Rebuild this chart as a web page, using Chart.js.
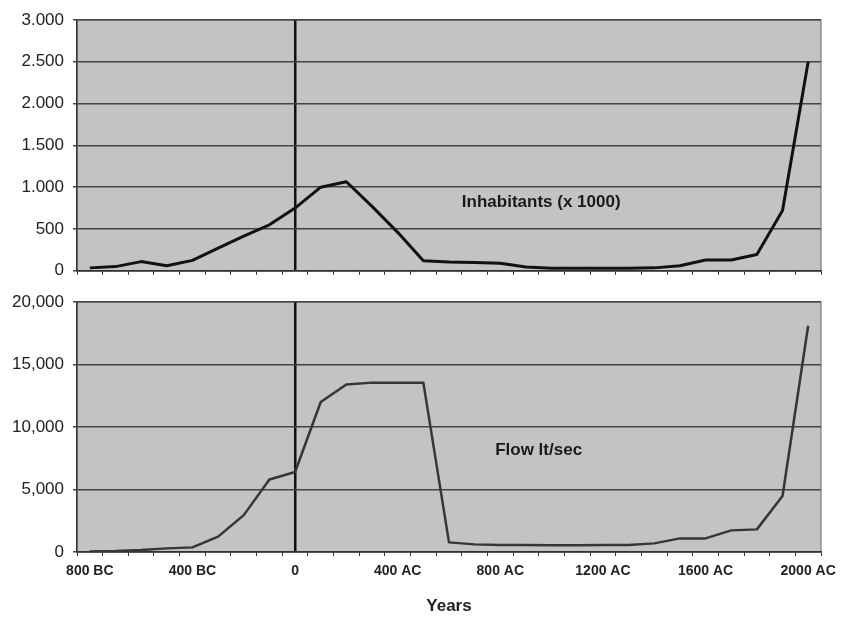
<!DOCTYPE html>
<html>
<head>
<meta charset="utf-8">
<script src="https://cdn.jsdelivr.net/npm/chart.js@4/dist/chart.umd.min.js"></script>
<style>
  body { margin: 0; background: #fff; }
  #wrap { position: relative; width: 849px; height: 617px; }
  canvas { position: absolute; left: 0; }
  #top { top: 0; z-index: 1; }
  #bottom { top: 280px; }
</style>
</head>
<body>
<div id="wrap">
  <canvas id="top" width="849" height="290"></canvas>
  <canvas id="bottom" width="849" height="337"></canvas>
</div>
<script>
// years, one point per century
const years = [-800, -700, -600, -500, -400, -300, -200, -100, 0, 100, 200, 300, 400, 500,
  600, 700, 800, 900, 1000, 1100, 1200, 1300, 1400, 1500, 1600, 1700, 1800, 1900, 2000];

// inhabitants (x 1000)
const inhabitants = [35, 50, 110, 60, 125, 270, 415, 550, 750, 1000, 1065, 770, 460, 120,
  105, 100, 90, 45, 30, 30, 30, 30, 35, 60, 130, 130, 195, 720, 2500];

// flow lt/sec
const flow = [50, 80, 160, 290, 370, 1230, 2950, 5800, 6400, 12000, 13400, 13550, 13550, 13550,
  770, 610, 560, 560, 550, 550, 560, 560, 690, 1090, 1090, 1730, 1810, 4480, 18100];

const xLabelYears = [-800, -400, 0, 400, 800, 1200, 1600, 2000];
const topTicks = [0, 500, 1000, 1500, 2000, 2500, 3000];
const bottomTicks = [0, 5000, 10000, 15000, 20000];

Chart.defaults.font.family = "'Liberation Sans', Arial, sans-serif";
Chart.defaults.color = "#222";

function yearLabel(v) {
  if (!xLabelYears.includes(v)) return "";
  if (v < 0) return (-v) + " BC";
  if (v === 0) return "0";
  return v + " AC";
}

// gray plot background and frame
const panelBg = {
  id: "panelBg",
  beforeDraw(chart) {
    const { ctx, chartArea: a } = chart;
    ctx.save();
    ctx.fillStyle = "#c3c3c3";
    ctx.fillRect(a.left, a.top, a.right - a.left, a.bottom - a.top);
    ctx.strokeStyle = "#6a6a6a";
    ctx.lineWidth = 1;
    ctx.strokeRect(a.left, a.top, a.right - a.left, a.bottom - a.top);
    ctx.restore();
  },
};

// text label inside the panel, placed in data units
const panelText = {
  id: "panelText",
  afterDraw(chart, args, opts) {
    const { ctx, scales } = chart;
    ctx.save();
    ctx.font = "bold 17px 'Liberation Sans', Arial, sans-serif";
    ctx.fillStyle = "#1a1a1a";
    ctx.textAlign = "left";
    ctx.textBaseline = "middle";
    ctx.fillText(opts.text, scales.x.getPixelForValue(opts.x), scales.y.getPixelForValue(opts.y));
    ctx.restore();
  },
};

function xScale(showLabels, height) {
  return {
    type: "linear",
    min: -850,
    max: 2050,
    afterBuildTicks(scale) {
      const t = [];
      for (let v = -850; v <= 2050; v += 50) t.push({ value: v });
      scale.ticks = t;
    },
    afterFit(scale) { scale.height = height; },
    border: { color: "#333", width: 1.5 },
    grid: {
      drawOnChartArea: true,
      color: (c) => (c.tick && c.tick.value === 0 ? "#111" : "rgba(0,0,0,0)"),
      lineWidth: (c) => (c.tick && c.tick.value === 0 ? 2.5 : 1),
      tickColor: (c) => (c.tick && Math.abs(c.tick.value % 100) === 50 ? "#333" : "rgba(0,0,0,0)"),
      tickLength: 4,
    },
    ticks: {
      display: showLabels,
      autoSkip: false,
      maxRotation: 0,
      padding: 7,
      font: { size: 14, weight: "bold" },
      callback: (v) => yearLabel(v),
    },
    title: showLabels
      ? { display: true, text: "Years", font: { size: 17, weight: "bold" }, padding: { top: 0, bottom: 0 } }
      : { display: false },
  };
}

function yScale(max, step, sep) {
  return {
    min: 0,
    max: max,
    afterFit(scale) { scale.width = 77; },
    border: { color: "#333", width: 1.5 },
    grid: { color: "#444", lineWidth: 1.5, tickLength: 4, tickColor: "#444" },
    ticks: {
      stepSize: step,
      padding: 9,
      font: { size: 17 },
      callback: (v) => String(v).replace(/\B(?=(\d{3})+(?!\d))/g, sep),
    },
  };
}

function points(values) {
  return years.map((yr, i) => ({ x: yr, y: values[i] }));
}

// top panel: inhabitants
new Chart(document.getElementById("top").getContext("2d"), {
  type: "line",
  data: {
    datasets: [{
      label: "Inhabitants (x 1000)",
      data: points(inhabitants),
      borderColor: "#111",
      borderWidth: 3,
      pointRadius: 0,
      tension: 0,
      borderJoinStyle: "round",
    }],
  },
  options: {
    responsive: false,
    animation: false,
    layout: { padding: { top: 20, right: 28, left: 0, bottom: 0 } },
    plugins: {
      legend: { display: false },
      tooltip: { enabled: false },
      panelText: { text: "Inhabitants (x 1000)", x: 650, y: 820 },
    },
    scales: { x: xScale(false, 9), y: yScale(3000, 500, ".") },
  },
  plugins: [panelBg, panelText],
});

// bottom panel: flow
new Chart(document.getElementById("bottom").getContext("2d"), {
  type: "line",
  data: {
    datasets: [{
      label: "Flow lt/sec",
      data: points(flow),
      borderColor: "#363636",
      borderWidth: 2.5,
      pointRadius: 0,
      tension: 0,
      borderJoinStyle: "round",
    }],
  },
  options: {
    responsive: false,
    animation: false,
    layout: { padding: { top: 22, right: 28, left: 0, bottom: 0 } },
    plugins: {
      legend: { display: false },
      tooltip: { enabled: false },
      panelText: { text: "Flow lt/sec", x: 780, y: 8150 },
    },
    scales: { x: xScale(true, 65), y: yScale(20000, 5000, ",") },
  },
  plugins: [panelBg, panelText],
});
</script>
</body>
</html>
